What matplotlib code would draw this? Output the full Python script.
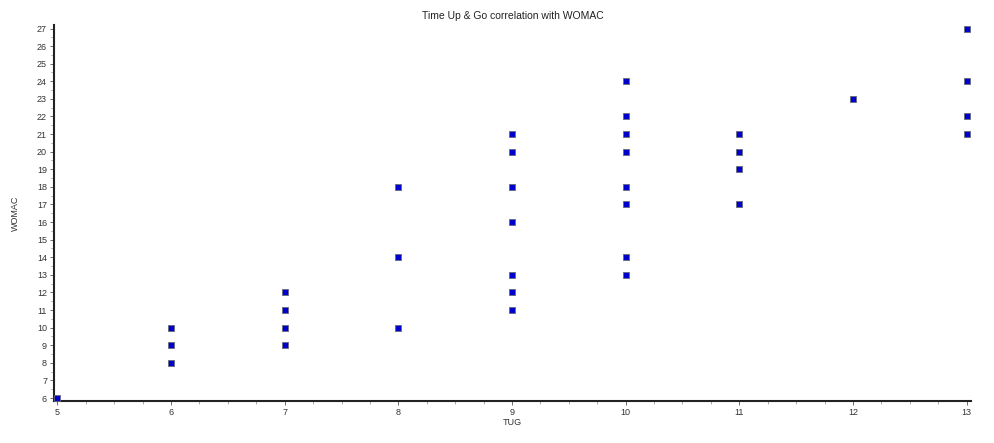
import numpy as np
import matplotlib
matplotlib.use("Agg")
import matplotlib.pyplot as plt
from matplotlib.ticker import MultipleLocator

plt.rcParams['font.family'] = ['Liberation Sans', 'DejaVu Sans']

# TUG score (x) and WOMAC score (y)
tug = [5,
       6, 6, 6,
       7, 7, 7, 7,
       8, 8, 8,
       9, 9, 9, 9, 9, 9, 9,
       10, 10, 10, 10, 10, 10, 10, 10,
       11, 11, 11, 11,
       12,
       13, 13, 13, 13]
womac = [6,
         10, 9, 8,
         12, 11, 10, 9,
         18, 14, 10,
         21, 20, 18, 16, 13, 12, 11,
         24, 22, 21, 20, 18, 17, 14, 13,
         21, 20, 19, 17,
         23,
         27, 24, 22, 21]

fig = plt.figure(figsize=(9.94, 4.43), dpi=100)
ax = fig.add_axes([0.0543, 0.0948, 0.9227, 0.8488])

ax.scatter(tug, womac, marker='s', s=22, color='#0000cc',
           edgecolors='#6a6a7a', linewidths=0.6, zorder=3, clip_on=False)

ax.set_xlim(4.97, 13.04)
ax.set_ylim(5.83, 27.2)
ax.xaxis.set_major_locator(MultipleLocator(1))
ax.xaxis.set_minor_locator(MultipleLocator(0.25))
ax.yaxis.set_major_locator(MultipleLocator(1))
ax.yaxis.set_minor_locator(MultipleLocator(0.5))

for s in ['top', 'right']:
    ax.spines[s].set_visible(False)
for s in ['left', 'bottom']:
    ax.spines[s].set_linewidth(1.5)
    ax.spines[s].set_color('#222222')

ax.tick_params(which='major', length=3, width=0.6, labelsize=6.5,
               colors='#555555', pad=2)
ax.tick_params(which='minor', length=2, width=0.5, colors='#888888')
for lbl in ax.get_xticklabels() + ax.get_yticklabels():
    lbl.set_color('#333333')

ax.set_title('Time Up & Go correlation with WOMAC', fontsize=7.5,
             color='#222222', pad=4)
ax.set_xlabel('TUG', fontsize=6.5, color='#333333', labelpad=1)
ax.set_ylabel('WOMAC', fontsize=6.5, color='#333333', labelpad=12)

fig.savefig('out.png', dpi=100)
